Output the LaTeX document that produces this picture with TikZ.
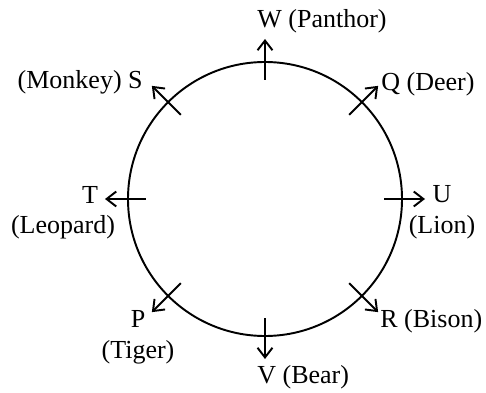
\documentclass[tikz,border=0pt]{standalone}
\usepackage{fontspec}
\setmainfont{Liberation Serif}
\usetikzlibrary{arrows.meta}
\tikzset{
  dir/ring/.style={line width=1.1pt},
  dir/arrow/.style={line width=1.1pt, -{Straight Barb[length=5.5pt,width=8.5pt]}},
  dir/label/.style={inner sep=0pt, font=\fontsize{14.8}{17.2}\selectfont, align=center}
}

\begin{document}
\begin{tikzpicture}[x=0.02cm, y=0.02cm]
\useasboundingbox (-265,-193) rectangle (221,199);
\draw[dir/ring] (0,0) circle (137);
\foreach \name/\ang in {W/90,Q/45,U/0,R/-45,V/-90,P/-135,T/180,S/135} {
  \coordinate (\name in) at (\ang:119);
  \coordinate (\name out) at (\ang:160);
  \draw[dir/arrow] (\name in) -- (\name out);
}
\node[dir/label, anchor=base west] (W) at (-8,171) {W (Panthor)};
\node[dir/label, anchor=base west] (Q) at (116,108) {Q (Deer)};
\node[dir/label, anchor=base] (U) at (177,-34) {U\\(Lion)};
\node[dir/label, anchor=base west] (R) at (115,-128) {R (Bison)};
\node[dir/label, anchor=base west] (V) at (-8,-184) {V (Bear)};
\node[dir/label, anchor=base] (P) at (-127,-159) {P\\(Tiger)};
\node[dir/label, anchor=base] (T) at (-175,-4) {T};
\node[dir/label, anchor=base] (Tname) at (-202,-34) {(Leopard)};
\node[dir/label, anchor=base east] (S) at (-122,110) {(Monkey) S};
\end{tikzpicture}
\end{document}
